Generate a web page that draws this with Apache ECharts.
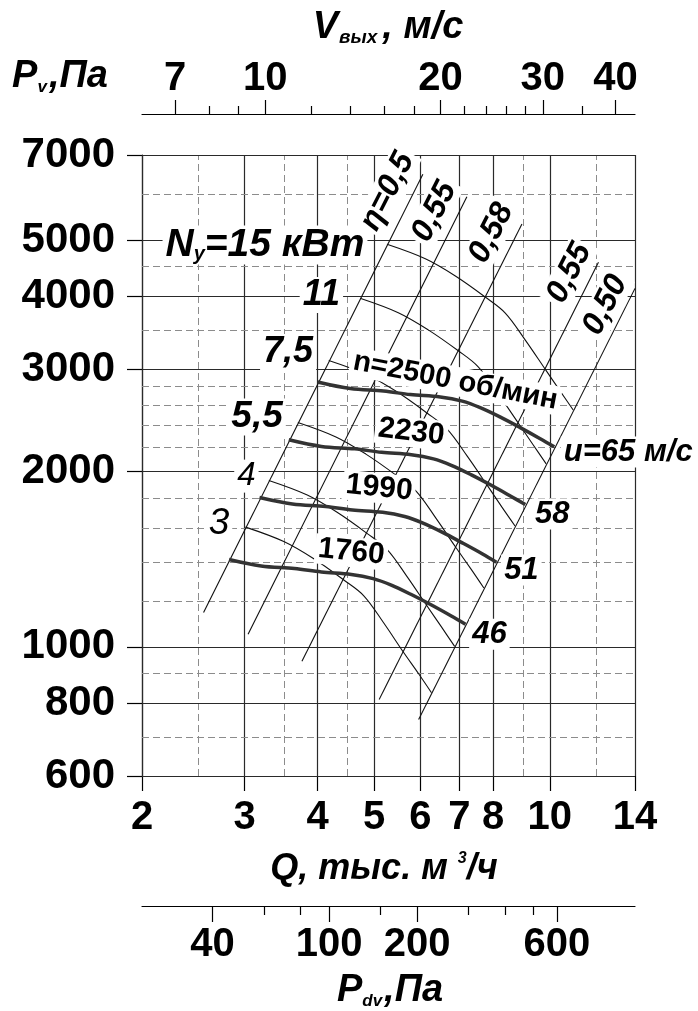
<!DOCTYPE html>
<html><head><meta charset="utf-8">
<script src="https://cdn.jsdelivr.net/npm/echarts@6/dist/echarts.min.js"></script>
<style>html,body{margin:0;padding:0;background:#fff}#c{width:698px;height:1011px}</style>
</head><body><div id="c"></div>
<script>
// ---------- axes / ticks ----------
const Q_TICKS = [2, 3, 4, 5, 6, 7, 8, 10, 14];
const Q_GRID_MINOR = [2.5, 3.5, 4.5, 9, 12];
const P_TICKS = [600, 800, 1000, 2000, 3000, 4000, 5000, 7000];
const P_GRID_MINOR = [700, 900, 1200, 1400, 1600, 1800, 2200, 2400, 2600, 2800, 3500, 4500, 6000];
const V_TICKS = [7, 10, 20, 30, 40];
const V_MINOR = [8, 9, 12, 14, 16, 18, 22, 24, 26, 28, 35];
const V_RANGE = [6.14, 43.2];
const PDV_TICKS = [40, 100, 200, 600];
const PDV_MINOR = [60, 80, 150, 300, 400, 500];
const PDV_RANGE = [22.97, 1109];

// ---------- pressure curves (Q, thousand m3/h ; P, Pa) ----------
const Q_N2500 = [4.00, 4.55, 5.19, 5.77, 6.49, 7.08, 7.60, 8.23, 8.90, 9.63, 10.18];
const P_N2500 = [2851, 2778, 2751, 2713, 2688, 2644, 2577, 2482, 2381, 2279, 2207];
const Q_N2230 = [3.57, 4.06, 4.63, 5.15, 5.79, 6.32, 6.78, 7.34, 7.94, 8.59, 9.08];
const P_N2230 = [2269, 2210, 2189, 2159, 2139, 2104, 2051, 1975, 1895, 1813, 1756];
const Q_N1990 = [3.18, 3.62, 4.13, 4.59, 5.17, 5.64, 6.05, 6.55, 7.08, 7.67, 8.10];
const P_N1990 = [1806, 1760, 1743, 1719, 1703, 1675, 1633, 1573, 1509, 1444, 1398];
const Q_N1760 = [2.82, 3.20, 3.65, 4.06, 4.57, 4.98, 5.35, 5.79, 6.27, 6.78, 7.17];
const P_N1760 = [1413, 1377, 1363, 1345, 1332, 1310, 1277, 1230, 1180, 1130, 1094];

// ---------- power curves ----------
const Q_N15 = [5.26, 6.12, 6.89, 7.75, 8.39, 9.08, 9.82, 10.42, 10.97];
const P_N15 = [4916, 4642, 4337, 3991, 3746, 3366, 3001, 2751, 2552];
const Q_N11 = [4.73, 5.50, 6.19, 6.97, 7.54, 8.16, 8.83, 9.37, 9.86];
const P_N11 = [3973, 3752, 3505, 3226, 3028, 2720, 2425, 2223, 2063];
const Q_N7_5 = [4.18, 4.87, 5.48, 6.16, 6.67, 7.22, 7.81, 8.28, 8.72];
const P_N7_5 = [3106, 2933, 2741, 2522, 2367, 2127, 1896, 1738, 1613];
const Q_N5_5 = [3.70, 4.30, 4.84, 5.45, 5.90, 6.38, 6.90, 7.33, 7.71];
const P_N5_5 = [2430, 2295, 2144, 1973, 1852, 1664, 1483, 1360, 1262];
const Q_N4 = [3.30, 3.84, 4.32, 4.86, 5.26, 5.69, 6.15, 6.53, 6.87];
const P_N4 = [1931, 1823, 1703, 1567, 1471, 1322, 1179, 1080, 1002];
const Q_N3 = [3.01, 3.50, 3.94, 4.43, 4.80, 5.19, 5.61, 5.96, 6.27];
const P_N3 = [1606, 1517, 1417, 1304, 1224, 1100, 980, 899, 834];

// ---------- efficiency lines ----------
const Q_ETA050L = [2.55, 6.06];  const P_ETA050L = [1146, 6486];
const Q_ETA055L = [3.04, 7.21];  const P_ETA055L = [1051, 5936];
const Q_ETA058 = [3.76, 8.96];   const P_ETA058 = [945, 5327];
const Q_ETA055R = [5.10, 12.12]; const P_ETA055R = [812, 4578];
const Q_ETA050R = [5.96, 14.0];  const P_ETA050R = [750, 4130];

// ---------- in-plot labels ----------
const LABEL_TEXT = ['{a|N}{s|у}{a|=15 кВт}', '11', '7,5', '5,5', '4', '3',
  'n=2500 об/мин', '2230', '1990', '1760', 'u=65 м/с', '58', '51', '46',
  'η=0,5', '0,55', '0,58', '0,55', '0,50'];
const LABEL_Q = [3.25, 4.06, 3.56, 3.15, 3.02, 2.71, 6.89, 5.79, 5.10, 4.57, 13.63, 10.10, 8.94, 7.88, 5.27, 6.34, 7.94, 10.80, 12.45];
const LABEL_P = [4902, 4022, 3210, 2482, 1965, 1625, 2862, 2339, 1874, 1455, 2161, 1691, 1355, 1051, 6058, 5593, 5141, 4388, 3866];

// ---------- styles ----------
const F = "'Liberation Sans', Arial, Helvetica, sans-serif";
const BLACK = '#000';
const SOLID = {type: 'solid', color: '#2a2a2a', width: 1.2};
const DASHED = {type: [7, 4], color: '#8c8c8c', width: 1};
// style per label: [fontSize, weight, italic, rotate]
const LABEL_STYLE = [
  [39, 'bold', true, 0], [36, 'bold', true, 0], [36, 'bold', true, 0], [37, 'bold', true, 0],
  [33, 'normal', true, 0], [37, 'normal', true, 0],
  [29, 'bold', false, -11], [30, 'bold', false, -7], [30, 'bold', false, -6], [30, 'bold', false, -6],
  [31, 'bold', true, 0], [31, 'bold', true, 0], [31, 'bold', true, 0], [31, 'bold', true, 0],
  [32, 'bold', true, 63], [32, 'bold', true, 63], [32, 'bold', true, 63], [32, 'bold', true, 63], [32, 'bold', true, 63]
];

function pts(q, p) { return q.map((v, i) => [v, p[i]]); }
function curve(q, p, w, c, smooth) {
  return {type: 'line', xAxisIndex: 0, yAxisIndex: 0, data: pts(q, p), symbol: 'none', showSymbol: false,
    smooth: smooth, lineStyle: {width: w, color: c}, z: 10, silent: true, emphasis: {disabled: true}, animation: false};
}

const gridLines = []
  .concat(Q_TICKS.map(v => ({xAxis: v, lineStyle: SOLID})))
  .concat(Q_GRID_MINOR.map(v => ({xAxis: v, lineStyle: DASHED})))
  .concat(P_TICKS.map(v => ({yAxis: v, lineStyle: SOLID})))
  .concat(P_GRID_MINOR.map(v => ({yAxis: v, lineStyle: DASHED})));

const NOBORDER = {textBorderWidth: 0, textBorderColor: 'transparent', textShadowBlur: 0, opacity: 1};
const labelData = LABEL_TEXT.map((t, i) => {
  const s = LABEL_STYLE[i];
  const base = Object.assign({fontSize: s[0], fontWeight: s[1], fontStyle: s[2] ? 'italic' : 'normal', fontFamily: F, color: BLACK}, NOBORDER);
  return {
    value: [LABEL_Q[i], LABEL_P[i]],
    label: Object.assign({
      show: true, position: 'inside', formatter: t, rotate: s[3],
      align: 'center', verticalAlign: 'middle',
      backgroundColor: '#fff', padding: [0, 3],
      fontSize: s[0], fontWeight: s[1], fontStyle: s[2] ? 'italic' : 'normal', fontFamily: F, color: BLACK,
      rich: {a: base, s: Object.assign({}, base, {fontSize: 20, verticalAlign: 'bottom', padding: [14, 0, 0, 0]})}
    }, NOBORDER)
  };
});

function plain(v) { return String(v); }
function axisLabelStyle(custom, margin, size) {
  return {show: true, customValues: custom, margin: margin, fontSize: size || 40, fontWeight: 'bold',
    fontFamily: F, color: BLACK, hideOverlap: false, showMinLabel: true, showMaxLabel: true, formatter: plain};
}
const tickLine = {color: BLACK, width: 1.2};
const titleA = {fontSize: 38, fontWeight: 'bold', fontStyle: 'italic', fontFamily: F, fill: BLACK};
function sub(size, va, pad) { return {fontSize: size, fontWeight: 'bold', fontStyle: 'italic', fontFamily: F, fill: BLACK, verticalAlign: va, padding: pad || [0, 0, 0, 0]}; }

const chart = echarts.init(document.getElementById('c'), null, {renderer: 'canvas', width: 698, height: 1011});
chart.setOption({
  animation: false,
  backgroundColor: '#fff',
  grid: {left: 142, right: 63, top: 155, bottom: 235, containLabel: false, outerBoundsMode: 'none'},
  xAxis: [
    {type: 'log', logBase: 10, min: 2, max: 14, position: 'bottom',
      axisLine: {show: true, onZero: false, lineStyle: tickLine},
      axisTick: {show: true, customValues: Q_TICKS, length: 15, lineStyle: tickLine},
      axisLabel: axisLabelStyle(Q_TICKS, 22), splitLine: {show: false}, minorTick: {show: false}},
    {type: 'log', logBase: 10, min: V_RANGE[0], max: V_RANGE[1], position: 'top', offset: 41,
      axisLine: {show: true, onZero: false, lineStyle: tickLine},
      axisTick: {show: true, customValues: V_TICKS, length: 14, lineStyle: tickLine},
      axisLabel: axisLabelStyle(V_TICKS, 15), splitLine: {show: false}},
    {type: 'log', logBase: 10, min: V_RANGE[0], max: V_RANGE[1], position: 'top', offset: 41,
      axisLine: {show: false, onZero: false},
      axisTick: {show: true, customValues: V_MINOR, length: 8, lineStyle: tickLine},
      axisLabel: {show: false}, splitLine: {show: false}},
    {type: 'log', logBase: 10, min: PDV_RANGE[0], max: PDV_RANGE[1], position: 'bottom', offset: 130,
      axisLine: {show: true, onZero: false, lineStyle: tickLine},
      axisTick: {show: true, customValues: PDV_TICKS, length: 16, lineStyle: tickLine},
      axisLabel: axisLabelStyle(PDV_TICKS, 19), splitLine: {show: false}},
    {type: 'log', logBase: 10, min: PDV_RANGE[0], max: PDV_RANGE[1], position: 'bottom', offset: 130,
      axisLine: {show: false, onZero: false},
      axisTick: {show: true, customValues: PDV_MINOR, length: 9, lineStyle: tickLine},
      axisLabel: {show: false}, splitLine: {show: false}}
  ],
  yAxis: [
    {type: 'log', logBase: 10, min: 600, max: 7000, position: 'left',
      axisLine: {show: true, onZero: false, lineStyle: tickLine},
      axisTick: {show: true, customValues: P_TICKS, length: 15, lineStyle: tickLine},
      axisLabel: axisLabelStyle(P_TICKS, 27, 42), splitLine: {show: false}, minorTick: {show: false}}
  ],
  series: [
    {type: 'line', xAxisIndex: 0, yAxisIndex: 0, data: [], z: 1, silent: true,
      markLine: {silent: true, z: 1, symbol: ['none', 'none'], animation: false, label: {show: false},
        emphasis: {disabled: true}, data: gridLines}},
    curve(Q_ETA050L, P_ETA050L, 1.1, '#111', false),
    curve(Q_ETA055L, P_ETA055L, 1.1, '#111', false),
    curve(Q_ETA058, P_ETA058, 1.1, '#111', false),
    curve(Q_ETA055R, P_ETA055R, 1.1, '#111', false),
    curve(Q_ETA050R, P_ETA050R, 1.1, '#111', false),
    curve(Q_N15, P_N15, 1.1, '#111', 0.35),
    curve(Q_N11, P_N11, 1.1, '#111', 0.35),
    curve(Q_N7_5, P_N7_5, 1.1, '#111', 0.35),
    curve(Q_N5_5, P_N5_5, 1.1, '#111', 0.35),
    curve(Q_N4, P_N4, 1.1, '#111', 0.35),
    curve(Q_N3, P_N3, 1.1, '#111', 0.35),
    curve(Q_N2500, P_N2500, 3.5, '#333', 0.35),
    curve(Q_N2230, P_N2230, 3.5, '#333', 0.35),
    curve(Q_N1990, P_N1990, 3.5, '#333', 0.35),
    curve(Q_N1760, P_N1760, 3.5, '#333', 0.35),
    {type: 'scatter', xAxisIndex: 0, yAxisIndex: 0, z: 20, silent: true, symbolSize: 2,
      itemStyle: {color: '#000', opacity: 1}, data: labelData, animation: false, clip: false,
      labelLayout: {hideOverlap: false}}
  ],
  graphic: [
    {type: 'text', x: 388, y: 28, z: 30, style: {text: '{a|V}{s|вых}{a|, м/с}', align: 'center', verticalAlign: 'middle',
      rich: {a: titleA, s: sub(19, 'bottom', [0, 5, 0, 1])}}},
    {type: 'text', x: 60, y: 77, z: 30, style: {text: '{a|P}{s|v}{a|,Па}', align: 'center', verticalAlign: 'middle',
      rich: {a: titleA, s: sub(17, 'bottom', [0, 2, 0, 0])}}},
    {type: 'text', x: 384, y: 869, z: 30, style: {text: '{a|Q, тыс. м }{u|3}{a|/ч}', align: 'center', verticalAlign: 'middle',
      rich: {a: Object.assign({}, titleA, {fontSize: 36}), u: sub(16, 'top')}}},
    {type: 'text', x: 390, y: 991, z: 30, style: {text: '{a|P}{s|dv}{a|,Па}', align: 'center', verticalAlign: 'middle',
      rich: {a: titleA, s: sub(17, 'bottom', [0, 2, 0, 0])}}}
  ]
});
</script>
</body></html>
